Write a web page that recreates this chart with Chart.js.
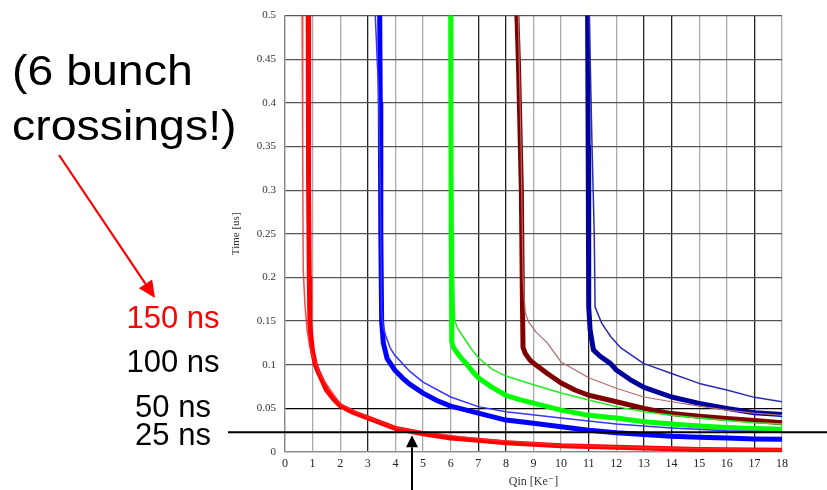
<!DOCTYPE html>
<html>
<head>
<meta charset="utf-8">
<script src="https://cdn.jsdelivr.net/npm/chart.js@4/dist/chart.umd.min.js"></script>
<style>
  body { margin: 0; background: #fff; }
  canvas { display: block; }
</style>
</head>
<body>
<canvas id="timeChart" width="827" height="490"></canvas>
<script>
// Qin [Ke-] values and response time [us]
const redThickX = [0.84, 0.85, 0.86, 0.88, 0.9, 0.93, 1.0, 1.1, 1.2, 1.3, 1.5, 1.75, 2, 2.5, 3, 3.5, 4, 4.5, 5, 6, 7, 8, 10, 13, 15, 18];
const redThickY = [0.5, 0.4, 0.3, 0.2, 0.15, 0.135, 0.115, 0.1, 0.092, 0.085, 0.071, 0.061, 0.053, 0.045, 0.039, 0.033, 0.027, 0.024, 0.021, 0.016, 0.0135, 0.0105, 0.0072, 0.0046, 0.003, 0.002];
const redThinX = [0.62, 0.64, 0.66, 0.72, 0.8, 0.9, 1.0, 1.3, 2, 3, 4, 5, 7, 10, 13, 18];
const redThinY = [0.5, 0.35, 0.21, 0.17, 0.14, 0.12, 0.11, 0.087, 0.055, 0.04, 0.028, 0.023, 0.015, 0.008, 0.005, 0.0025];

const blueThickX = [3.43, 3.45, 3.47, 3.5, 3.56, 3.7, 3.97, 4.25, 4.5, 5, 5.5, 6, 7, 8, 9, 10, 11, 12, 13, 14, 15, 16, 17, 18];
const blueThickY = [0.5, 0.4, 0.25, 0.15, 0.125, 0.107, 0.094, 0.085, 0.078, 0.0675, 0.059, 0.0526, 0.0446, 0.0366, 0.033, 0.029, 0.025, 0.022, 0.02, 0.018, 0.0168, 0.016, 0.015, 0.0145];
const blueThinX = [3.27, 3.38, 3.45, 3.5, 3.55, 3.64, 3.8, 3.97, 4.5, 5, 6, 7, 8, 10, 12, 14, 16, 18];
const blueThinY = [0.5, 0.42, 0.3, 0.16, 0.145, 0.134, 0.12, 0.111, 0.093, 0.08, 0.063, 0.052, 0.046, 0.039, 0.032, 0.0275, 0.0244, 0.023];

const greenThickX = [6.0, 6.01, 6.02, 6.04, 6.1, 6.2, 6.4, 6.6, 6.8, 7, 7.5, 8, 8.5, 9, 10, 11, 12, 13, 14, 15, 16, 17, 18];
const greenThickY = [0.5, 0.4, 0.25, 0.126, 0.12, 0.115, 0.107, 0.1, 0.092, 0.085, 0.074, 0.065, 0.06, 0.056, 0.048, 0.042, 0.039, 0.0347, 0.032, 0.0298, 0.028, 0.027, 0.026];
const greenThinX = [6.0, 6.05, 6.1, 6.15, 6.25, 6.5, 6.75, 7, 7.5, 8, 9, 10, 11, 12, 13, 14, 15, 16, 17, 18];
const greenThinY = [0.5, 0.35, 0.2, 0.15, 0.142, 0.13, 0.118, 0.108, 0.095, 0.087, 0.077, 0.0675, 0.0595, 0.052, 0.046, 0.042, 0.039, 0.036, 0.0335, 0.032];

const maroonThickX = [8.4, 8.46, 8.56, 8.6, 8.62, 8.7, 8.88, 9.2, 9.5, 10, 10.5, 11, 12, 13, 14, 15, 16, 17, 18];
const maroonThickY = [0.5, 0.44, 0.3, 0.17, 0.12, 0.113, 0.105, 0.097, 0.09, 0.079, 0.071, 0.065, 0.0576, 0.05, 0.044, 0.041, 0.0385, 0.036, 0.0335];
const maroonThinX = [8.45, 8.55, 8.62, 8.7, 8.82, 9.1, 9.5, 10, 11, 12, 13, 14, 15, 16, 17, 18];
const maroonThinY = [0.5, 0.35, 0.2, 0.16, 0.149, 0.137, 0.125, 0.103, 0.085, 0.073, 0.063, 0.0576, 0.0526, 0.048, 0.0445, 0.042];

const navyThickX = [10.96, 10.98, 11.0, 11.05, 11.17, 11.4, 11.78, 12, 12.5, 13, 14, 15, 16, 17, 18];
const navyThickY = [0.5, 0.35, 0.166, 0.14, 0.117, 0.11, 0.1015, 0.094, 0.083, 0.074, 0.063, 0.0557, 0.05, 0.045, 0.043];
const navyThinX = [11.02, 11.12, 11.2, 11.23, 11.48, 11.8, 12.14, 12.98, 14, 15, 16, 17, 18];
const navyThinY = [0.5, 0.35, 0.25, 0.166, 0.147, 0.132, 0.12, 0.1015, 0.09, 0.0786, 0.071, 0.0626, 0.0576];

const xTicks = [0, 1, 2, 3, 4, 5, 6, 7, 8, 9, 10, 11, 12, 13, 14, 15, 16, 17, 18];
const yTicks = [0, 0.05, 0.1, 0.15, 0.2, 0.25, 0.3, 0.35, 0.4, 0.45, 0.5];

const bigNote = ["(6 bunch", "crossings!)"];
const nsLabels = ["150 ns", "100 ns", "50 ns", "25 ns"];
const markerTime = 0.0225; // the 25 ns line
const markerQin = 4.6;     // arrow on the x axis

// styles
const darkVerticals = [3, 7, 8, 11, 13, 14, 17];
const serif = "'Liberation Serif', 'DejaVu Serif', serif";
const sans = "'Liberation Sans', Arial, sans-serif";

function pts(xs, ys) {
  return xs.map((x, i) => ({ x: x, y: ys[i] }));
}

function curve(xs, ys, color, width) {
  return {
    data: pts(xs, ys),
    borderColor: color,
    borderWidth: width,
    borderJoinStyle: "round",
    borderCapStyle: "round",
    pointRadius: 0,
    showLine: true,
    fill: false,
    tension: 0
  };
}

const datasets = [
  curve(redThinX, redThinY, "rgba(255,40,40,0.85)", 1.5),
  curve(redThickX, redThickY, "#ff0000", 5),
  curve(blueThinX, blueThinY, "#3535ff", 1.5),
  curve(blueThickX, blueThickY, "#0000ff", 5),
  curve(greenThinX, greenThinY, "#22ee22", 1.5),
  curve(greenThickX, greenThickY, "#00ff00", 5),
  curve(maroonThinX, maroonThinY, "#b06a6a", 1.2),
  curve(maroonThickX, maroonThickY, "#800000", 5),
  curve(navyThinX, navyThinY, "#2a2ab0", 1.5),
  curve(navyThickX, navyThickY, "#00009c", 5)
];

function arrow(ctx, x1, y1, x2, y2, headLen, headHalf, color, width) {
  const ang = Math.atan2(y2 - y1, x2 - x1);
  const bx = x2 - headLen * Math.cos(ang);
  const by = y2 - headLen * Math.sin(ang);
  ctx.strokeStyle = color;
  ctx.fillStyle = color;
  ctx.lineWidth = width;
  ctx.beginPath();
  ctx.moveTo(x1, y1);
  ctx.lineTo(bx, by);
  ctx.stroke();
  ctx.beginPath();
  ctx.moveTo(x2, y2);
  ctx.lineTo(bx + headHalf * Math.sin(ang), by - headHalf * Math.cos(ang));
  ctx.lineTo(bx - headHalf * Math.sin(ang), by + headHalf * Math.cos(ang));
  ctx.closePath();
  ctx.fill();
}

const notes = {
  id: "notes",
  afterDraw(chart) {
    const ctx = chart.ctx;
    const xs = chart.scales.x, ys = chart.scales.y;
    ctx.save();

    // big note, slightly stretched like the slide
    ctx.fillStyle = "#000";
    ctx.textAlign = "left";
    ctx.textBaseline = "alphabetic";
    ctx.font = "43px " + sans;
    ctx.save();
    ctx.scale(1.08, 1);
    ctx.fillText(bigNote[0], 12 / 1.08, 85);
    ctx.fillText(bigNote[1], 12 / 1.08, 140);
    ctx.restore();

    // ns labels
    ctx.font = "31px " + sans;
    ctx.textAlign = "center";
    const bases = [328, 372, 417, 445];
    nsLabels.forEach((t, i) => {
      ctx.fillStyle = i === 0 ? "#ff0000" : "#000";
      ctx.fillText(t, 173, bases[i]);
    });

    // red arrow to "150 ns"
    arrow(ctx, 59, 155, 155, 298, 17, 8, "#ff0000", 2.2);

    // 25 ns line
    const ly = ys.getPixelForValue(markerTime);
    ctx.strokeStyle = "#000";
    ctx.lineWidth = 2;
    ctx.beginPath();
    ctx.moveTo(228, ly);
    ctx.lineTo(827, ly);
    ctx.stroke();

    // arrow from below
    const ax = xs.getPixelForValue(markerQin);
    arrow(ctx, ax, 490, ax, ly + 3, 12, 6, "#000", 2);

    ctx.restore();
  }
};

new Chart(document.getElementById("timeChart"), {
  type: "scatter",
  data: { datasets: datasets },
  options: {
    responsive: false,
    animation: false,
    layout: { padding: { left: 226, right: 45, top: 15, bottom: 0 } },
    plugins: { legend: { display: false }, tooltip: { enabled: false } },
    scales: {
      x: {
        type: "linear",
        min: 0,
        max: 18,
        afterBuildTicks: s => { s.ticks = xTicks.map(v => ({ value: v })); },
        afterFit: s => { s.height = 38; },
        ticks: { padding: 5, color: "#222", font: { family: serif, size: 12 } },
        grid: {
          drawTicks: false,
          lineWidth: 1.3,
          color: c => darkVerticals.includes(c.tick.value) ? "#222" : "#aaa"
        },
        border: { color: "#888", width: 1.3 },
        title: {
          display: true,
          text: "Qin [Ke\u207B]",
          color: "#333",
          padding: { top: 0, bottom: 1 },
          font: { family: serif, size: 12 }
        }
      },
      y: {
        type: "linear",
        min: 0,
        max: 0.5,
        afterBuildTicks: s => { s.ticks = yTicks.map(v => ({ value: v })); },
        afterFit: s => { s.width = 59; },
        ticks: { padding: 9, color: "#333", font: { family: serif, size: 11 }, callback: v => String(+v.toFixed(2)) },
        grid: {
          drawTicks: false,
          lineWidth: 1.3,
          color: c => c.tick.value === 0.05 ? "#000" : (c.tick.value === 0 ? "#999" : "#555")
        },
        border: { color: "#888", width: 1.3 },
        title: {
          display: true,
          text: "Time [us]",
          color: "#333",
          padding: { top: 4, bottom: 4 },
          font: { family: serif, size: 11 }
        }
      }
    }
  },
  plugins: [notes]
});
</script>
</body>
</html>
